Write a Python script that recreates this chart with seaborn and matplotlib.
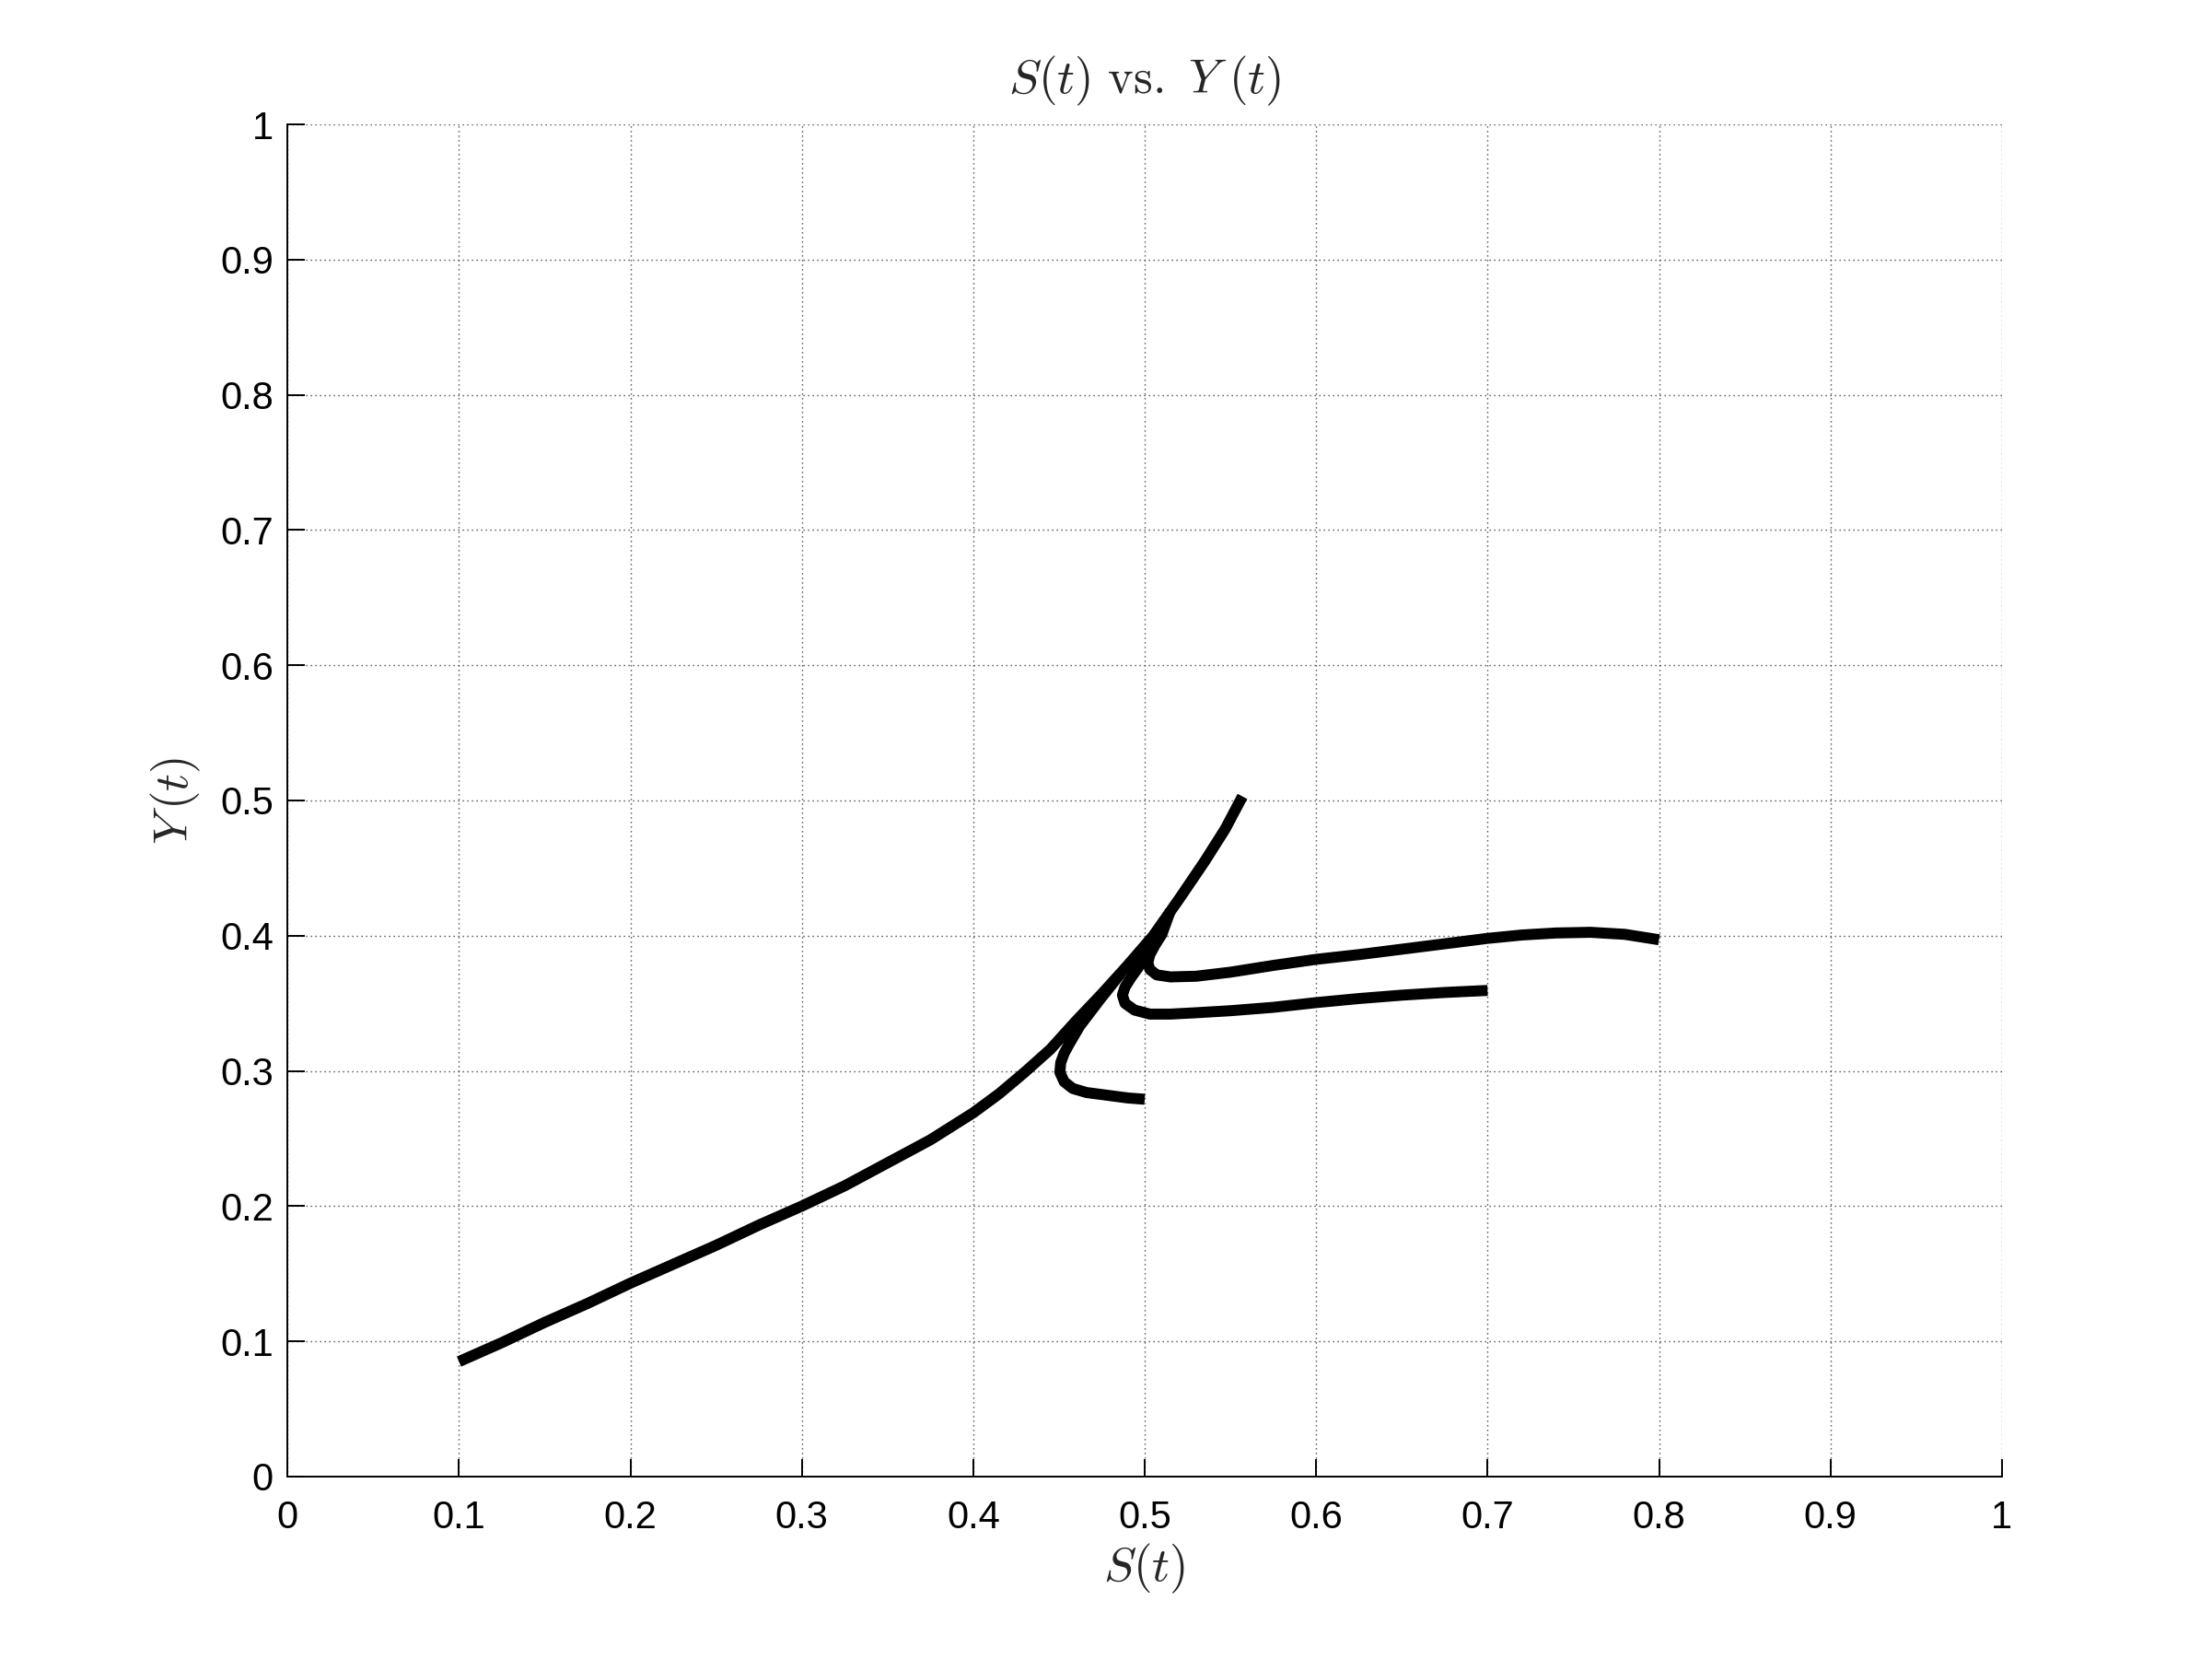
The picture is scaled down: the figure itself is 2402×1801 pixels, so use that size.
#!/usr/bin/env python3
"""
Phase-plane plot of S(t) vs. Y(t): several trajectories drawn as thick black lines.
"""

import matplotlib
matplotlib.use("Agg")
import matplotlib.pyplot as plt
import seaborn as sns

# Trajectory: long branch from (0.1, 0.085) up to (0.557, 0.503)
main_s = [0.100, 0.125, 0.150, 0.175, 0.200, 0.225, 0.250, 0.275, 0.300, 0.325,
          0.350, 0.375, 0.400, 0.415, 0.430, 0.445, 0.460, 0.475, 0.490, 0.505,
          0.520, 0.535, 0.547, 0.557]
main_y = [0.085, 0.099, 0.114, 0.128, 0.143, 0.157, 0.171, 0.186, 0.200, 0.215,
          0.232, 0.249, 0.269, 0.283, 0.299, 0.316, 0.337, 0.357, 0.378, 0.400,
          0.427, 0.455, 0.479, 0.503]

# Trajectory starting at S = 0.5
low_s = [0.500, 0.490, 0.478, 0.466, 0.458, 0.453, 0.4505, 0.451, 0.453, 0.456,
         0.462, 0.474, 0.486]
low_y = [0.279, 0.280, 0.282, 0.284, 0.287, 0.292, 0.299, 0.306, 0.313, 0.320,
         0.333, 0.353, 0.372]

# Trajectory starting at S = 0.7
mid_s = [0.700, 0.675, 0.650, 0.625, 0.600, 0.575, 0.550, 0.530, 0.515, 0.503,
         0.494, 0.4885, 0.487, 0.4885, 0.492, 0.496, 0.500, 0.506]
mid_y = [0.3595, 0.358, 0.356, 0.3535, 0.3505, 0.347, 0.3445, 0.343, 0.342, 0.342,
         0.345, 0.350, 0.356, 0.362, 0.369, 0.376, 0.385, 0.4015]

# Trajectory starting at S = 0.8
top_s = [0.800, 0.780, 0.760, 0.740, 0.720, 0.700, 0.675, 0.650, 0.625, 0.600,
         0.575, 0.550, 0.530, 0.515, 0.507, 0.503, 0.5018, 0.503, 0.506, 0.510,
         0.515]
top_y = [0.397, 0.401, 0.4025, 0.402, 0.4005, 0.398, 0.394, 0.390, 0.386, 0.3825,
         0.378, 0.373, 0.370, 0.3695, 0.371, 0.375, 0.380, 0.386, 0.393, 0.401,
         0.4185]

tick_values = [0, 0.1, 0.2, 0.3, 0.4, 0.5, 0.6, 0.7, 0.8, 0.9, 1]
tick_labels = ['0', '0.1', '0.2', '0.3', '0.4', '0.5', '0.6', '0.7', '0.8', '0.9', '1']

sns.set_style("white")
plt.rcParams['font.family'] = ['Liberation Sans', 'DejaVu Sans']
plt.rcParams['mathtext.fontset'] = 'cm'

fig = plt.figure(figsize=(12.01, 9.005), dpi=200)
ax = fig.add_axes([0.13, 0.11, 0.775, 0.815])

for s, y in [(main_s, main_y), (low_s, low_y), (mid_s, mid_y), (top_s, top_y)]:
    sns.lineplot(x=s, y=y, sort=False, estimator=None, color='black',
                 linewidth=4.3, ax=ax, solid_capstyle='butt', solid_joinstyle='round')

ax.set_xlim(0, 1)
ax.set_ylim(0, 1)
ax.set_xticks(tick_values)
ax.set_xticklabels(tick_labels)
ax.set_yticks(tick_values)
ax.set_yticklabels(tick_labels)

# MATLAB-like look: dotted grid, inward ticks, no top/right box
ax.grid(True, color='#333333', linewidth=0.5, linestyle=(0, (0.9, 2.7)))
ax.set_axisbelow(True)
for side in ['top', 'right']:
    ax.spines[side].set_visible(False)
for side in ['left', 'bottom']:
    ax.spines[side].set_color('black')
    ax.spines[side].set_linewidth(0.7)
ax.tick_params(axis='both', direction='in', length=6.7, width=0.7, colors='black',
               labelsize=15, bottom=True, left=True)
ax.tick_params(axis='x', pad=9)
ax.tick_params(axis='y', pad=5.5)

ax.set_title(r'$S(t)\ \mathrm{vs.}\ Y\;(t)$', fontsize=19, pad=12)
ax.set_xlabel(r'$S(t)$', fontsize=19, labelpad=2)
ax.set_ylabel(r'$Y\,(t)$', fontsize=19, labelpad=7)

plt.savefig('out.png', dpi=200)
plt.close()
